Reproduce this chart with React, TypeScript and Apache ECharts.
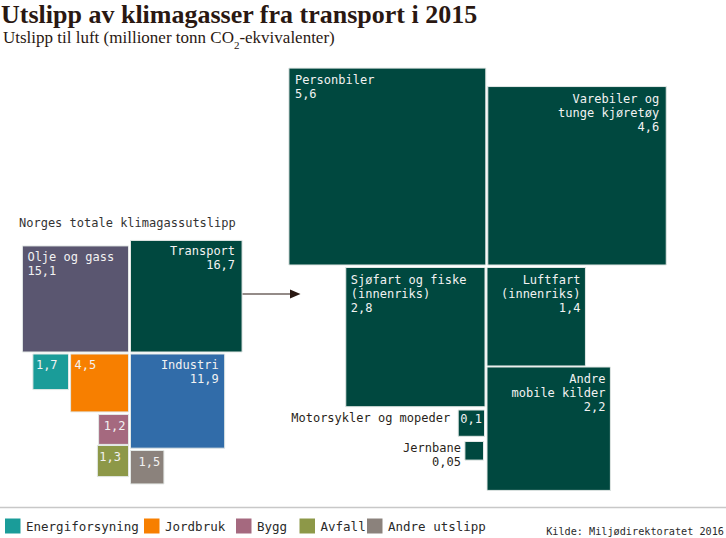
import React, { useEffect, useRef } from "react";
import * as echarts from "echarts";

// ---------- data ----------
const sectorNames = ["Olje og gass", "Transport", "Energiforsyning", "Jordbruk", "Industri", "Bygg", "Avfall", "Andre utslipp"];
const sectorValues = [15.1, 16.7, 1.7, 4.5, 11.9, 1.2, 1.3, 1.5];
const sectorShowName = [true, true, false, false, true, false, false, false];

const transportNames = ["Personbiler", "Varebiler og\ntunge kjøretøy", "Sjøfart og fiske\n(innenriks)", "Luftfart\n(innenriks)", "Andre\nmobile kilder", "Motorsykler og mopeder", "Jernbane"];
const transportValues = [5.6, 4.6, 2.8, 1.4, 2.2, 0.1, 0.05];

const legendNames = ["Energiforsyning", "Jordbruk", "Bygg", "Avfall", "Andre utslipp"];

// ---------- layout & styles ----------
// anchor point [x, y] in page pixels + which corner of the square sits on it
const sectorAnchors: [number, number, string][] = [
  [128.5, 352, "rb"], [130.5, 352, "lb"], [68.5, 354, "rt"], [128.5, 354, "rt"],
  [130.5, 354, "lt"], [128.5, 414.5, "rt"], [128.5, 445.5, "rt"], [130.5, 450.5, "lt"],
];
// label align inside, padding
const sectorLabel: [string, number][] = [
  ["left", 5], ["right", 7], ["left", 3], ["left", 4], ["right", 6], ["right", 3], ["left", 2], ["left", 8],
];
const sectorColors = ["#5a5670", "#00483f", "#1a9c99", "#f77f00", "#316ca9", "#a5697f", "#8d9848", "#8b827c"];
const sectorScale = 27.3;

const transportAnchors: [number, number, string][] = [
  [485.8, 265, "rb"], [487.8, 265, "lb"], [485, 267.5, "rt"], [487, 267.5, "lt"],
  [487, 367, "lt"], [484.5, 410, "rt"], [483.5, 441.5, "rt"],
];
// modes: in-left, in-right, value-in/name-out, out
const transportLabel: [string, number, number][] = [
  ["left", 6, 0], ["right", 7, 0], ["left", 5, 0], ["right", 5, 0], ["right", 5, 0], ["split", 2, 8], ["out", 4, 0],
];
const transportColor = "#00483f";
const transportScale = 83.2;

const legendColors = ["#1a9c99", "#f77f00", "#a5697f", "#8d9848", "#8b827c"];
const legendX = [5, 144, 236, 299.5, 367];

const MONO = '"DejaVu Sans Mono", monospace';
const W = 726;
const H = 538;

const fmt = (v: number) => String(v).replace(".", ",");

function squareRect(api: any, k: number) {
  const ax = api.value(0);
  const ay = api.value(1);
  const v = api.value(2);
  const corner = String(api.value(3));
  const side = Math.sqrt(v) * k;
  const x0 = corner.indexOf("r") === 0 ? ax - side : ax;
  const y0 = corner.indexOf("b") === 1 ? ay - side : ay;
  const p0 = api.coord([x0, y0]);
  const p1 = api.coord([x0 + side, y0 + side]);
  return {
    x: Math.min(p0[0], p1[0]),
    y: Math.min(p0[1], p1[1]),
    width: Math.abs(p1[0] - p0[0]),
    height: Math.abs(p1[1] - p0[1]),
  };
}

function inLabel(r: any, text: string, align: string, pad: number, topPad: number) {
  return {
    type: "text",
    x: align === "left" ? r.x + pad : r.x + r.width - pad,
    y: r.y + topPad,
    silent: true,
    style: {
      text,
      fill: "#f2f2f2",
      font: `12px ${MONO}`,
      align,
      verticalAlign: "top",
      lineHeight: 14,
    },
  };
}

export default function App() {
  const ref = useRef<HTMLDivElement>(null);

  useEffect(() => {
    document.body.style.margin = "0";
    if (!ref.current) return;
    const chart = echarts.init(ref.current, null, { renderer: "svg" });

    const sectorData = sectorValues.map((v, i) => ({
      name: sectorNames[i],
      value: [sectorAnchors[i][0], sectorAnchors[i][1], v, sectorAnchors[i][2]],
    }));
    const transportData = transportValues.map((v, i) => ({
      name: transportNames[i],
      value: [transportAnchors[i][0], transportAnchors[i][1], v, transportAnchors[i][2]],
    }));

    const renderSector = (params: any, api: any) => {
      const i = params.dataIndex;
      const r = squareRect(api, sectorScale);
      const [align, pad] = sectorLabel[i];
      const text = sectorShowName[i] ? `${sectorNames[i]}\n${fmt(sectorValues[i])}` : fmt(sectorValues[i]);
      return {
        type: "group",
        children: [
          { type: "rect", shape: r, style: { fill: sectorColors[i], stroke: "#e3e8e6", lineWidth: 1 } },
          inLabel(r, text, align, pad, 4),
        ],
      };
    };

    const renderTransport = (params: any, api: any) => {
      const i = params.dataIndex;
      const r = squareRect(api, transportScale);
      const [mode, pad, outPad] = transportLabel[i];
      const children: any[] = [
        { type: "rect", shape: r, style: { fill: transportColor, stroke: "#e3e8e6", lineWidth: 1 } },
      ];
      const val = fmt(transportValues[i]);
      if (mode === "left" || mode === "right") {
        children.push(inLabel(r, `${transportNames[i]}\n${val}`, mode, pad, 5));
      } else if (mode === "split") {
        children.push(inLabel(r, val, "left", pad, 2));
        children.push({
          type: "text",
          x: r.x - outPad,
          y: r.y + 1,
          silent: true,
          style: { text: transportNames[i], fill: "#2a1f1a", font: `12px ${MONO}`, align: "right", verticalAlign: "top", lineHeight: 14 },
        });
      } else {
        children.push({
          type: "text",
          x: r.x - pad,
          y: r.y - 1,
          silent: true,
          style: { text: `${transportNames[i]}\n${val}`, fill: "#2a1f1a", font: `12px ${MONO}`, align: "right", verticalAlign: "top", lineHeight: 14 },
        });
      }
      return { type: "group", children };
    };

    const legendGraphics: any[] = [];
    legendNames.forEach((n, i) => {
      legendGraphics.push({
        type: "rect",
        shape: { x: legendX[i], y: 518.5, width: 15.5, height: 15 },
        style: { fill: legendColors[i] },
      });
      legendGraphics.push({
        type: "text",
        x: legendX[i] + 21,
        y: 526.5,
        style: { text: n, fill: "#2a2a2a", font: `12.5px ${MONO}`, verticalAlign: "middle", align: "left" },
      });
    });

    chart.setOption({
      animation: false,
      grid: { left: 0, right: 0, top: 0, bottom: 0 },
      xAxis: { type: "value", min: 0, max: W, show: false },
      yAxis: { type: "value", min: 0, max: H, inverse: true, show: false },
      series: [
        { type: "custom", name: "Norges totale klimagassutslipp", renderItem: renderSector, data: sectorData, clip: false },
        { type: "custom", name: "Transport", renderItem: renderTransport, data: transportData, clip: false },
      ],
      graphic: [
        {
          type: "text",
          x: 1,
          y: 1,
          style: { text: "Utslipp av klimagasser fra transport i 2015", fill: "#2a1812", font: 'bold 26px "Liberation Serif", serif' },
        },
        {
          type: "text",
          x: 3,
          y: 28,
          style: {
            text: "{n|Utslipp til luft (millioner tonn CO}{s|2}{n|-ekvivalenter)}",
            rich: {
              n: { fill: "#2a1812", fontSize: 17, fontFamily: '"Liberation Serif", serif', verticalAlign: "middle", lineHeight: 19 },
              s: { fill: "#2a1812", fontSize: 11, fontFamily: '"Liberation Serif", serif', verticalAlign: "bottom", lineHeight: 19, padding: [0, 0, -3, 0] },
            },
          },
        },
        {
          type: "text",
          x: 19,
          y: 217,
          style: { text: "Norges totale klimagassutslipp", fill: "#333333", font: `12px ${MONO}` },
        },
        {
          type: "line",
          shape: { x1: 208, y1: 294, x2: 292, y2: 294 },
          style: { stroke: "#2a1812", lineWidth: 1.2 },
        },
        {
          type: "polygon",
          shape: { points: [[290, 289.5], [300.5, 294], [290, 298.5]] },
          style: { fill: "#2a1812" },
        },
        {
          type: "line",
          shape: { x1: 0, y1: 507.5, x2: W, y2: 507.5 },
          style: { stroke: "#c8c8c8", lineWidth: 1.5 },
        },
        ...legendGraphics,
        {
          type: "text",
          x: 724,
          y: 531,
          style: { text: "Kilde: Miljødirektoratet 2016", fill: "#2a2a2a", font: `10.2px ${MONO}`, align: "right", verticalAlign: "middle" },
        },
      ],
    });

    return () => chart.dispose();
  }, []);

  return <div ref={ref} style={{ width: W, height: H }} />;
}
